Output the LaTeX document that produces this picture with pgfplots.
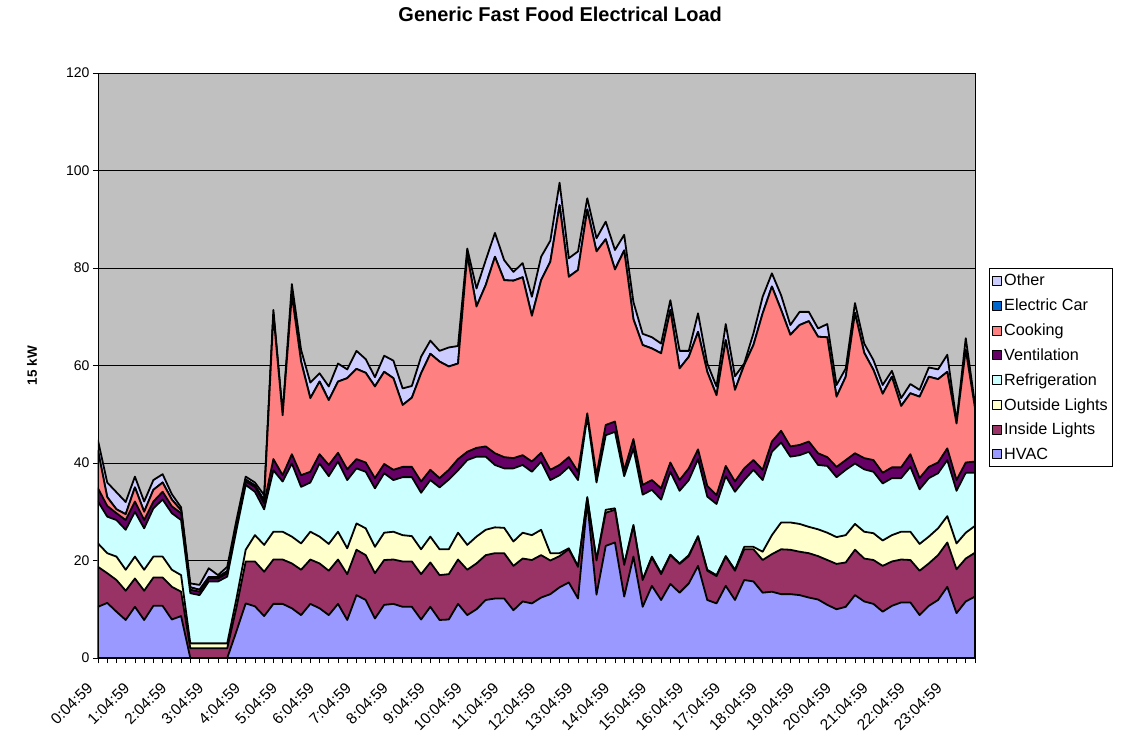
\documentclass[border=0pt]{standalone}
\usepackage{fontspec}
\setmainfont{Liberation Sans}
\usepackage{pgfplots}
\usepackage{pgfplotstable}
\pgfplotsset{compat=1.18}

\definecolor{cHVAC}{HTML}{9999FF}
\definecolor{cIn}{HTML}{993366}
\definecolor{cOut}{HTML}{FFFFCC}
\definecolor{cRef}{HTML}{CCFFFF}
\definecolor{cVent}{HTML}{660066}
\definecolor{cCook}{HTML}{FF8080}
\definecolor{cCar}{HTML}{0066CC}
\definecolor{cOther}{HTML}{CCCCFF}
\definecolor{cBack}{HTML}{C0C0C0}

% cumulative top of each layer (kW), one row per 15 min step
% H=HVAC, IL=+Inside Lights, OL=+Outside Lights, R=+Refrigeration,
% V=+Ventilation, C=+Cooking (+Electric Car = 0), O=+Other
\pgfplotstableread{
t  H    IL   OL   R    V    C    O
0  10.5 18.7 23.5 32.1 34.8 42.5 44.6
1  11.3 17.4 21.5 29.0 31.2 33.0 36.0
2  9.5  16.0 20.8 28.3 29.7 30.5 34.0
3  7.8  13.8 18.1 26.3 28.3 29.5 32.0
4  10.5 16.3 20.8 30.0 32.1 35.0 37.2
5  7.8  13.8 18.1 26.6 28.3 30.0 32.1
6  10.7 16.5 20.8 30.7 32.1 34.5 36.5
7  10.7 16.5 20.8 32.5 34.1 36.0 37.7
8  7.9  14.6 18.1 29.7 31.1 32.5 33.6
9  8.6  13.6 17.0 28.3 29.7 30.3 30.9
10 0    2.0  3.0  13.3 14.0 14.5 15.3
11 0    2.0  3.0  12.9 13.6 14.0 15.0
12 0    2.0  3.0  15.7 16.3 16.6 18.4
13 0    2.0  3.0  15.7 16.3 16.6 17.0
14 0    2.0  3.0  16.7 17.4 17.8 18.7
15 5.5  10.4 12.2 26.3 26.9 27.3 28.3
16 11.2 19.8 22.2 35.5 36.2 36.6 37.2
17 10.6 19.8 25.2 34.1 35.1 35.4 36.0
18 8.6  17.7 23.2 30.5 31.7 32.3 33.4
19 11.1 20.2 25.9 38.5 40.8 70.5 71.4
20 11.1 20.2 25.9 36.2 37.5 49.8 50.2
21 10.2 19.4 24.9 39.9 41.8 74.5 76.7
22 8.8  18.1 23.5 35.1 37.5 60.8 63.2
23 11.1 20.2 25.9 36.0 38.2 53.3 56.5
24 10.2 19.4 24.9 39.9 41.8 56.7 58.4
25 8.8  17.9 23.4 37.3 39.6 52.9 55.7
26 11.1 20.2 25.9 40.3 42.1 56.7 60.4
27 7.8  17.2 22.5 36.5 38.7 57.4 59.2
28 12.9 22.2 27.6 38.9 40.8 59.3 63.0
29 11.9 21.1 26.6 38.2 40.1 58.5 61.3
30 8.1  17.4 22.8 34.8 36.9 55.7 57.6
31 10.9 20.1 25.7 37.9 39.8 58.7 62.0
32 11.1 20.2 25.9 36.5 38.6 57.4 61.0
33 10.5 19.8 25.2 37.1 39.2 51.9 55.3
34 10.5 19.8 25.0 37.1 39.2 53.4 55.8
35 7.9  17.2 22.3 33.9 36.2 58.4 61.8
36 10.5 19.6 24.9 36.5 38.6 62.4 65.1
37 7.8  17.0 22.3 35.0 36.9 60.8 63.0
38 7.9  17.2 22.3 36.6 38.6 59.8 63.7
39 11.1 20.2 25.7 38.5 40.8 60.4 64.0
40 8.8  18.1 23.2 40.6 42.3 82.7 84.0
41 10.0 19.4 24.9 41.3 43.1 72.1 75.8
42 11.9 21.1 26.3 41.3 43.4 76.5 81.6
43 12.2 21.5 26.8 39.6 42.0 82.3 87.2
44 12.2 21.5 26.7 38.9 41.2 77.5 81.6
45 9.8  18.9 23.9 38.9 41.0 77.4 79.2
46 11.6 20.4 25.7 39.6 41.6 78.1 81.0
47 11.2 20.1 25.2 38.2 40.3 70.2 74.1
48 12.4 21.1 26.3 40.3 42.1 77.5 82.3
49 13.1 20.0 21.5 36.5 38.6 81.3 85.6
50 14.5 20.9 21.5 37.5 39.6 92.9 97.5
51 15.5 22.3 22.5 39.2 41.2 78.2 82.0
52 12.2 18.7 18.8 36.5 38.2 79.6 83.4
53 32.0 32.8 33.0 49.5 50.2 92.0 94.3
54 13.0 20.0 20.1 36.0 37.5 83.4 86.1
55 23.0 29.8 30.4 45.7 47.8 85.9 89.5
56 23.7 30.4 30.7 46.4 48.5 79.7 83.7
57 12.6 19.1 19.2 37.3 38.5 83.6 86.8
58 20.8 27.1 27.3 43.0 44.9 69.5 73.0
59 10.5 16.0 16.1 33.5 35.5 64.2 66.5
60 14.8 20.6 20.8 34.5 36.5 63.5 65.8
61 11.9 17.2 17.4 32.5 34.8 62.5 64.5
62 15.2 21.1 21.2 38.2 40.1 71.4 73.4
63 13.4 19.3 19.4 34.3 36.5 59.4 63.0
64 15.3 20.9 21.1 36.5 38.9 61.8 63.0
65 18.9 24.9 25.0 40.8 42.8 66.9 70.7
66 11.9 17.9 18.1 33.1 35.3 58.7 60.4
67 11.2 16.8 17.0 31.6 33.4 53.9 55.7
68 14.8 20.8 20.9 37.3 39.4 65.2 68.5
69 11.9 17.9 18.1 34.1 36.2 55.0 57.8
70 16.0 22.3 22.8 36.5 38.9 60.1 60.4
71 15.7 22.3 22.8 38.6 40.6 64.2 66.6
72 13.4 20.1 21.8 36.5 38.6 70.7 74.1
73 13.6 21.3 25.2 42.3 44.4 76.2 78.9
74 13.1 22.3 27.8 44.2 46.6 71.4 74.4
75 13.1 22.2 27.8 41.3 43.4 66.3 68.3
76 12.9 21.8 27.5 41.6 43.7 68.3 71.0
77 12.4 21.5 26.9 42.3 44.4 69.1 71.0
78 12.0 20.9 26.4 39.6 42.0 65.9 67.6
79 10.9 20.1 25.7 39.4 41.2 65.8 68.5
80 10.0 19.3 24.8 37.1 39.2 53.6 56.0
81 10.5 19.6 25.2 38.6 40.6 57.7 59.4
82 12.9 22.2 27.5 39.9 42.0 70.8 72.8
83 11.6 20.4 25.9 38.7 41.0 62.6 64.5
84 11.1 20.1 25.6 38.2 40.6 59.1 61.1
85 9.5  18.9 24.1 35.8 38.0 54.2 56.0
86 10.7 19.8 25.2 36.9 39.1 57.7 58.9
87 11.4 20.2 25.9 36.9 39.1 51.7 53.3
88 11.4 20.1 25.9 39.2 41.8 54.3 56.2
89 8.8  17.9 23.4 34.6 36.9 53.6 55.0
90 10.7 19.4 24.9 36.9 39.2 57.7 59.6
91 11.9 21.1 26.6 37.9 40.1 57.2 59.2
92 14.6 23.7 29.1 40.6 43.0 58.7 62.2
93 9.2  18.2 23.5 34.3 36.5 48.1 48.5
94 11.6 20.4 25.7 38.0 40.1 63.2 65.6
95 12.6 21.6 27.1 38.0 40.3 51.3 52.0
}\loadtable

\begin{document}
\begin{tikzpicture}
\useasboundingbox (-98bp,-76bp) rectangle (1024bp,658bp);
\begin{axis}[
    at={(0,0)}, anchor=south west,
    scale only axis,
    width=877bp, height=585bp,
    xmin=0, xmax=95,
    ymin=0, ymax=120,
    ytick={0,20,...,120},
    xtick={0,4,...,92},
    xticklabels={0:04:59,1:04:59,2:04:59,3:04:59,4:04:59,5:04:59,6:04:59,7:04:59,8:04:59,9:04:59,10:04:59,11:04:59,12:04:59,13:04:59,14:04:59,15:04:59,16:04:59,17:04:59,18:04:59,19:04:59,20:04:59,21:04:59,22:04:59,23:04:59},
    minor xtick={0,...,95},
    xtick pos=lower, ytick pos=left,
    tick align=outside,
    major tick length=5bp, minor tick length=5bp,
    tick style={black, line width=0.8bp},
    axis line style={black, line width=0.8bp},
    ymajorgrids,
    major grid style={black, line width=0.8bp},
    axis background/.style={fill=cBack},
    /pgf/number format/assume math mode=true,
    yticklabel style={font=\fontsize{14bp}{16bp}\selectfont},
    xticklabel style={font=\fontsize{15.5bp}{18bp}\selectfont, anchor=east, inner sep=0pt, xshift=-8bp, yshift=-22bp, rotate=45},
    title={Generic Fast Food Electrical Load},
    title style={at={(axis description cs:0.527,1.09)}, anchor=center, font=\fontsize{20bp}{22bp}\selectfont\bfseries},
    ylabel={15 kW},
    ylabel style={at={(axis description cs:-0.0753,0.5)}, anchor=center, font=\fontsize{13.5bp}{16bp}\selectfont\bfseries},
    legend style={at={(axis description cs:1.016,0.667)}, anchor=north west,
        draw=black, fill=white, line width=0.8bp,
        font=\fontsize{16.2bp}{19bp}\selectfont, row sep=7.6bp,
        inner xsep=3bp, inner ysep=4bp},
    legend cell align=left,
    legend image code/.code={\draw[#1, line width=0.8bp] (1bp,-4.5bp) rectangle (10bp,4.5bp);},
    every axis plot/.append style={draw=black, line width=1.8bp, line join=round},
]
\addplot[fill=cOther] table[x=t, y=O] {\loadtable} \closedcycle;
\addlegendentry{Other}
\addplot[fill=cCar] table[x=t, y=C] {\loadtable} \closedcycle;
\addlegendentry{Electric Car}
\addplot[fill=cCook] table[x=t, y=C] {\loadtable} \closedcycle;
\addlegendentry{Cooking}
\addplot[fill=cVent] table[x=t, y=V] {\loadtable} \closedcycle;
\addlegendentry{Ventilation}
\addplot[fill=cRef] table[x=t, y=R] {\loadtable} \closedcycle;
\addlegendentry{Refrigeration}
\addplot[fill=cOut] table[x=t, y=OL] {\loadtable} \closedcycle;
\addlegendentry{Outside Lights}
\addplot[fill=cIn] table[x=t, y=IL] {\loadtable} \closedcycle;
\addlegendentry{Inside Lights}
\addplot[fill=cHVAC] table[x=t, y=H] {\loadtable} \closedcycle;
\addlegendentry{HVAC}
\end{axis}
\end{tikzpicture}
\end{document}
